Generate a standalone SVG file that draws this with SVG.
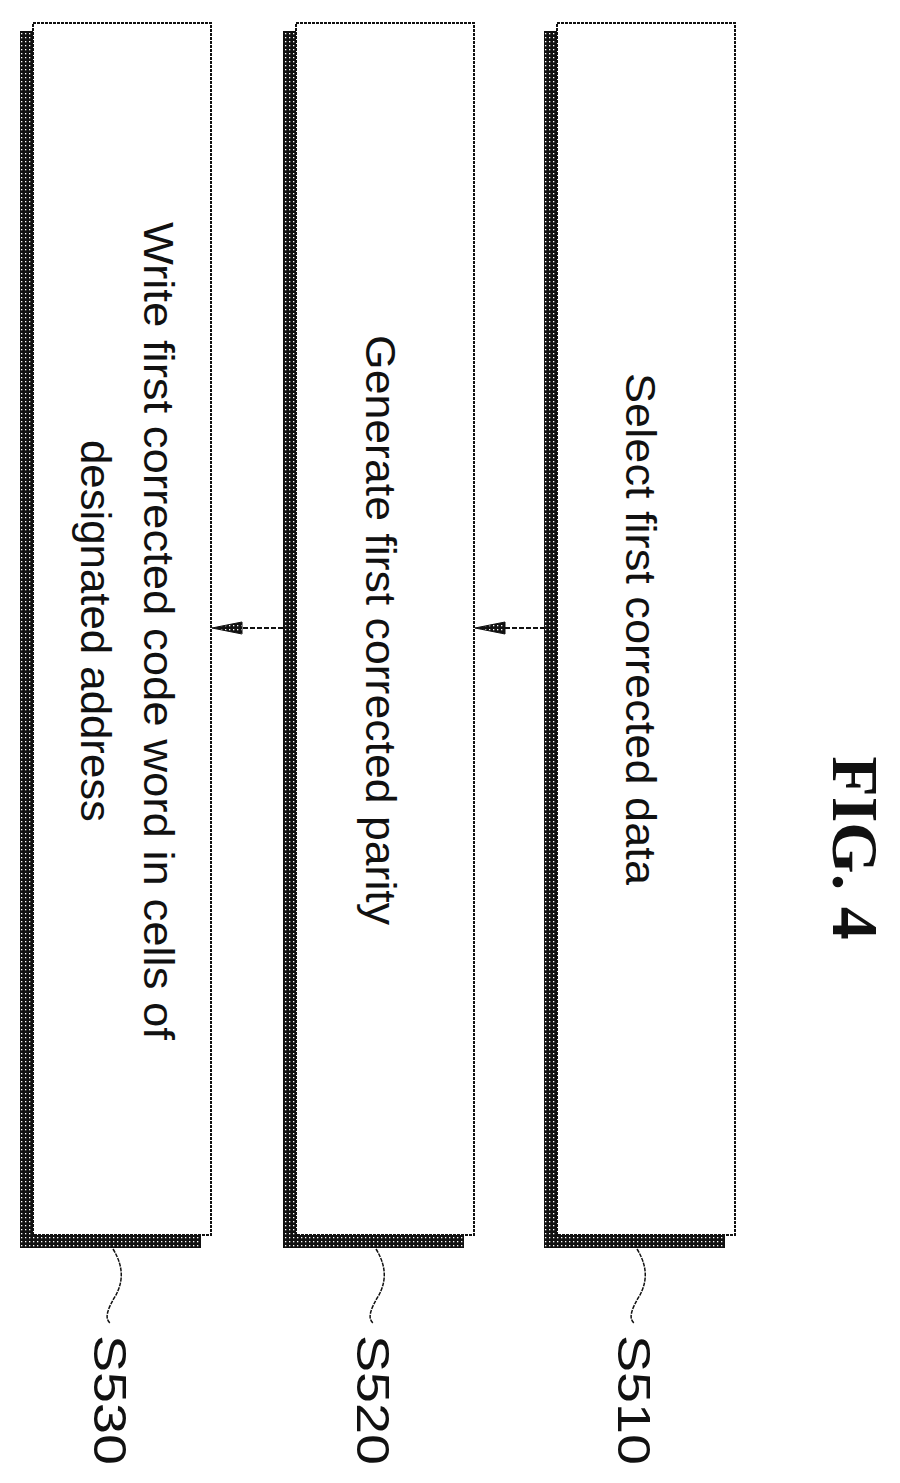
<svg xmlns="http://www.w3.org/2000/svg" width="900" height="1483" viewBox="0 0 900 1483">
<defs>
<pattern id="hatch" width="4" height="4" patternUnits="userSpaceOnUse">
<rect width="4" height="4" fill="#111"/><rect x="1" y="1" width="1.3" height="1.3" fill="#fff"/>
</pattern>
</defs>
<style>
.box{fill:#fff;stroke:#111;stroke-width:2;stroke-dasharray:3 1}
.sh{fill:url(#hatch)}
.t{font-family:"Liberation Sans",Arial,sans-serif;font-size:42px;fill:#111;text-anchor:middle;dominant-baseline:central}
.lbl{font-family:"Liberation Sans",Arial,sans-serif;font-size:46px;fill:#111;text-anchor:middle;dominant-baseline:central}
.lead{fill:none;stroke:#111;stroke-width:1.5;stroke-dasharray:4 1}
.c{stroke:#111;stroke-width:2;stroke-dasharray:5 2;fill:none}
.ah{fill:url(#hatch);stroke:#111;stroke-width:1}
</style>
<text x="855" y="848" transform="rotate(90 855 848)" style="font-family:'Liberation Serif',serif;font-weight:bold;font-size:66px;text-anchor:middle;dominant-baseline:central" fill="#111">FIG. 4</text>
<g id="S510">
<rect class="sh" x="544" y="31" width="14" height="1217"/>
<rect class="sh" x="544" y="1235" width="181" height="13"/>
<rect class="box" x="557" y="23" width="178" height="1212"/>
<text class="t" x="640" y="629" transform="rotate(90 640 629)" textLength="512" lengthAdjust="spacingAndGlyphs">Select first corrected data</text>
<path class="lead" d="M637,1249 C650,1270 645,1285 640,1295 C632,1308 628,1318 634,1323"/>
<text class="lbl" x="634" y="1400" transform="rotate(90 634 1400)" textLength="130" lengthAdjust="spacingAndGlyphs">S510</text>
</g>
<g id="S520">
<rect class="sh" x="283" y="31" width="14" height="1217"/>
<rect class="sh" x="283" y="1235" width="181" height="13"/>
<rect class="box" x="296" y="23" width="178" height="1212"/>
<text class="t" x="380" y="630" transform="rotate(90 380 630)" textLength="590" lengthAdjust="spacingAndGlyphs">Generate first corrected parity</text>
<path class="lead" d="M376,1249 C389,1270 384,1285 379,1295 C371,1308 367,1318 373,1323"/>
<text class="lbl" x="373" y="1400" transform="rotate(90 373 1400)" textLength="130" lengthAdjust="spacingAndGlyphs">S520</text>
</g>
<g id="S530">
<rect class="sh" x="20" y="31" width="14" height="1217"/>
<rect class="sh" x="20" y="1235" width="181" height="13"/>
<rect class="box" x="33" y="23" width="178" height="1212"/>
<text class="t" x="158" y="631" transform="rotate(90 158 631)" textLength="818" lengthAdjust="spacingAndGlyphs">Write first corrected code word in cells of</text>
<text class="t" x="95" y="631" transform="rotate(90 95 631)" textLength="382" lengthAdjust="spacingAndGlyphs">designated address</text>
<path class="lead" d="M113,1249 C126,1270 121,1285 116,1295 C108,1308 104,1318 110,1323"/>
<text class="lbl" x="110" y="1400" transform="rotate(90 110 1400)" textLength="130" lengthAdjust="spacingAndGlyphs">S530</text>
</g>
<g id="connectors">
<line class="c" x1="545" y1="628" x2="500" y2="628"/>
<polygon class="ah" points="475,628 505,622 505,634"/>
<line class="c" x1="283" y1="628" x2="238" y2="628"/>
<polygon class="ah" points="212,628 242,622 242,634"/>
</g>
</svg>
